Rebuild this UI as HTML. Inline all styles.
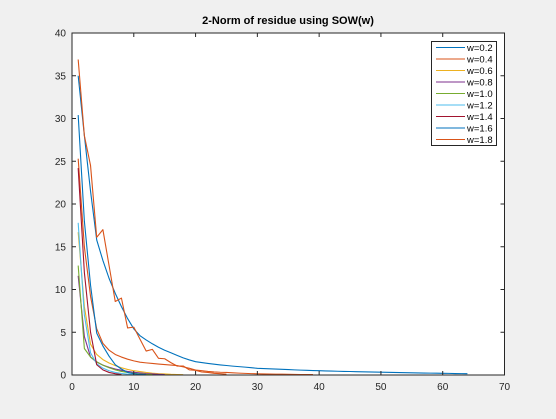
<!DOCTYPE html>
<html><head><meta charset="utf-8"><style>
html,body{margin:0;padding:0;background:#f0f0f0;}
svg{display:block;font-family:"Liberation Sans",Arial,sans-serif;}
</style></head><body>
<svg id="chart" width="556" height="419" viewBox="0 0 556 419">
<rect x="0" y="0" width="556" height="419" fill="#f0f0f0"/>
<rect x="72" y="33" width="432.5" height="342" fill="#fff"/>
<text x="288" y="24" text-anchor="middle" font-size="11" font-weight="bold" fill="#000">2-Norm of residue using SOW(w)</text>
<g id="series"></g>
<g id="axes"></g>
<g id="legend"></g>
</svg>
<script>
const labels = ["w=0.2","w=0.4","w=0.6","w=0.8","w=1.0","w=1.2","w=1.4","w=1.6","w=1.8"];
const colors = ["#0072BD","#D95319","#EDB120","#7E2F8E","#77AC30","#4DBEEE","#A2142F","#0072BD","#D95319"];
const s02 = [35,28,21.5,15.8,13.4,11.3,9.55,8,6.6,5.4,4.6,4.1,3.65,3.25,2.9,2.6,2.3,2.0,1.76,1.56,1.45,1.35,1.26,1.18,1.11,1.04,0.98,0.92,0.85,0.78,0.75,0.72,0.69,0.66,0.63,0.6,0.57,0.55,0.52,0.5,0.48,0.46,0.44,0.42,0.41,0.39,0.37,0.36,0.34,0.33,0.31,0.3,0.28,0.27,0.26,0.24,0.23,0.22,0.21,0.2,0.19,0.17,0.16,0.15];
const s04 = [25.3,15,9.2,5.4,3.7,2.9,2.4,2.1,1.85,1.65,1.5,1.42,1.35,1.28,1.22,1.16,1.1,0.95,0.78,0.58,0.5,0.42,0.36,0.32,0.3,0.26,0.22,0.19,0.16,0.14,0.12,0.11,0.1,0.09,0.08,0.07,0.06,0.06,0.05];
const s06 = [16.7,8,3.6,2.4,1.8,1.4,1.1,0.85,0.65,0.5,0.4,0.3,0.22,0.16,0.12,0.08,0.06,0.04];
const s08 = [11.6,4.5,2.1,1.5,1.15,0.9,0.7,0.55,0.42,0.32,0.24,0.17,0.12,0.08,0.05];
const s10 = [12.8,3.1,2.1,1.55,1.15,0.85,0.6,0.42,0.3,0.2,0.13,0.08,0.05];
const s12 = [17.8,7,2.6,1.3,0.8,0.5,0.3,0.18,0.1,0.05];
const s14 = [24.2,12,5,1.2,0.6,0.3,0.15,0.05];
const s16 = [30.4,18,10.5,4.9,3.4,2.2,1.2,0.7,0.3,0.15,0.08,0.04];
const s18 = [36.9,28,24.5,16.1,17.0,12.8,8.6,9.0,5.5,5.6,4.2,2.8,3.0,1.95,1.9,1.45,1.05,1.05,0.6,0.55,0.35,0.3,0.2,0.15,0.1];
const seriesData = [s02,s04,s06,s08,s10,s12,s14,s16,s18];
const xTicks = [0,10,20,30,40,50,60,70];
const yTicks = [0,5,10,15,20,25,30,35,40];

const X0=72, X1=504.5, Y0=375, Y1=33;
const xs = v => X0 + (v/70)*(X1-X0);
const ys = v => Y0 - (v/40)*(Y0-Y1);
const NS="http://www.w3.org/2000/svg";
function mk(tag, attrs){const e=document.createElementNS(NS,tag);for(const k in attrs)e.setAttribute(k,attrs[k]);return e;}

const sg=document.getElementById('series');
seriesData.forEach((d,i)=>{
  const pts=d.map((v,j)=>xs(j+1).toFixed(2)+','+ys(v).toFixed(2)).join(' ');
  const p=mk('polyline',{points:pts,fill:'none',stroke:colors[i],'stroke-width':1.1,'stroke-linejoin':'round'});
  
  
  sg.appendChild(p);
});

const ag=document.getElementById('axes');
const box=mk('rect',{x:X0,y:Y1,width:X1-X0,height:Y0-Y1,fill:'none',stroke:'#262626','stroke-width':1});


ag.appendChild(box);
xTicks.forEach(t=>{
  const x=xs(t);
  const l1=mk('line',{x1:x,x2:x,y1:Y0,y2:Y0-4,stroke:'#262626'});
  
  
  ag.appendChild(l1);
  const l2=mk('line',{x1:x,x2:x,y1:Y1,y2:Y1+4,stroke:'#262626'});
  
  
  ag.appendChild(l2);
  const tx=mk('text',{x:x,y:Y0+15,'text-anchor':'middle','font-size':10,fill:'#262626'});
  tx.textContent=t;
  
  
  ag.appendChild(tx);
});
yTicks.forEach(t=>{
  const y=ys(t);
  const l1=mk('line',{x1:X0,x2:X0+4,y1:y,y2:y,stroke:'#262626'});
  
  
  ag.appendChild(l1);
  const l2=mk('line',{x1:X1,x2:X1-4,y1:y,y2:y,stroke:'#262626'});
  
  
  ag.appendChild(l2);
  const tx=mk('text',{x:X0-6,y:y+3.5,'text-anchor':'end','font-size':10,fill:'#262626'});
  tx.textContent=t;
  
  
  ag.appendChild(tx);
});

const lg=document.getElementById('legend');
const lb=mk('rect',{x:431.5,y:41.5,width:65,height:104,fill:'#fff',stroke:'#262626','stroke-width':1});


lg.appendChild(lb);
labels.forEach((lab,i)=>{
  const y=47.5+i*11.5;
  const l=mk('line',{x1:436,x2:465,y1:y,y2:y,stroke:colors[i],'stroke-width':1.1});
  
  
  lg.appendChild(l);
  const t=mk('text',{x:467,y:y+3.5,'font-size':9.5,fill:'#000'});
  t.textContent=lab;
  
  
  lg.appendChild(t);
});
</script>
</body></html>
